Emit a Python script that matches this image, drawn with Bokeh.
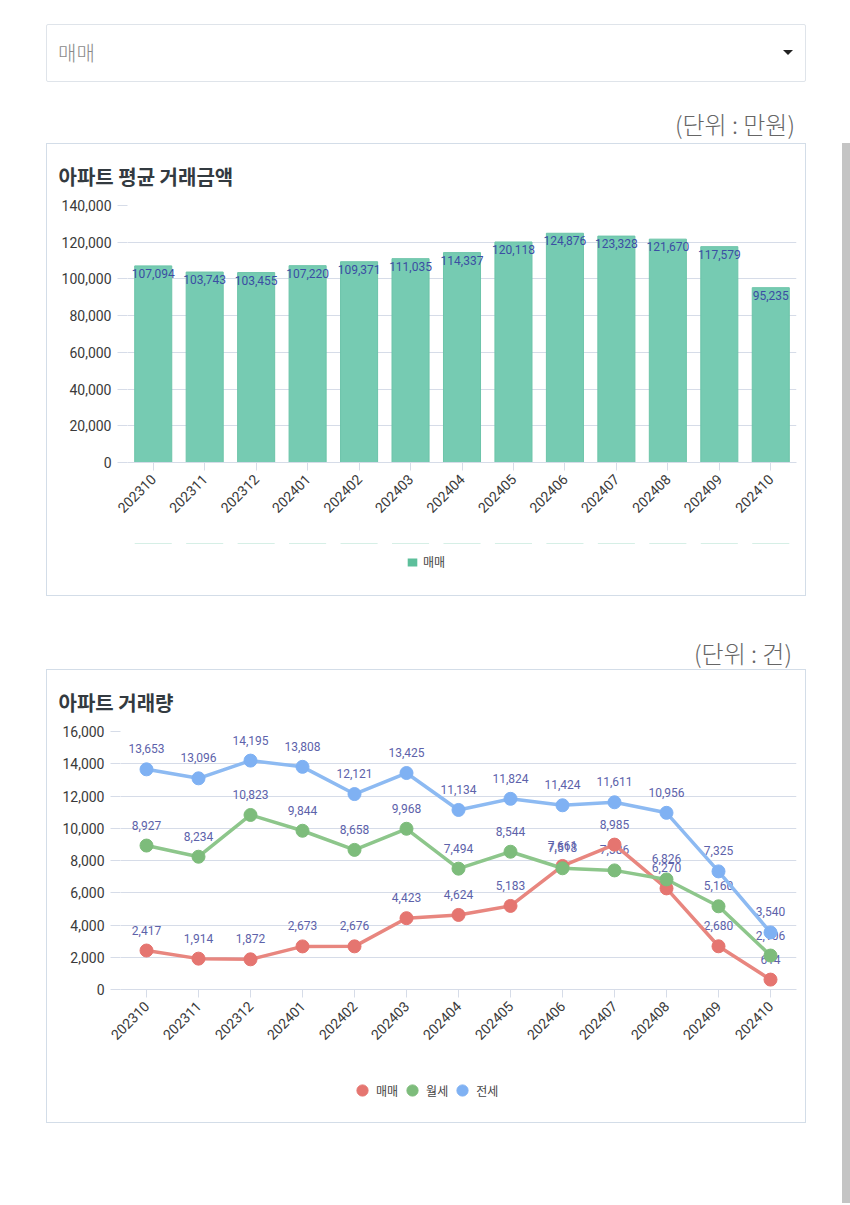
import math
from bokeh.plotting import figure
from bokeh.models import (ColumnDataSource, FactorRange, Range1d, SingleIntervalTicker,
                          NumeralTickFormatter, Legend, LegendItem, Div, Spacer)
from bokeh.layouts import column, row
from bokeh.core.properties import value
from bokeh.embed import file_html
from bokeh.resources import INLINE

months = ["202310", "202311", "202312", "202401", "202402", "202403", "202404",
          "202405", "202406", "202407", "202408", "202409", "202410"]
avg_price = [107094, 103743, 103455, 107220, 109371, 111035, 114337,
             120118, 124876, 123328, 121670, 117579, 95235]
sale = [2417, 1914, 1872, 2673, 2676, 4423, 4624, 5183, 7661, 8985, 6270, 2680, 614]
monthly_rent = [8927, 8234, 10823, 9844, 8658, 9968, 7494, 8544, 7518, 7386, 6826, 5160, 2106]
jeonse = [13653, 13096, 14195, 13808, 12121, 13425, 11134, 11824, 11424, 11611, 10956, 7325, 3540]

GRID = "#d6dce8"
CARD = "1px solid #d3dde8"
KFONT = "Noto Sans CJK KR"
NFONT = "Roboto"
TOP_STYLE = {"border-top": CARD, "border-left": CARD, "border-right": CARD,
             "box-sizing": "border-box"}
BOT_STYLE = {"border-bottom": CARD, "border-left": CARD, "border-right": CARD,
             "box-sizing": "border-box"}


def style_axes(p, tick_interval, std):
    p.yaxis.ticker = SingleIntervalTicker(interval=tick_interval)
    p.yaxis.formatter = NumeralTickFormatter(format="0,0")
    p.yaxis.axis_line_color = None
    p.yaxis.major_tick_out = 10
    p.yaxis.major_tick_in = 0
    p.yaxis.major_tick_line_color = GRID
    p.yaxis.minor_tick_line_color = None
    p.yaxis.major_label_standoff = std
    p.yaxis.major_label_text_font = NFONT
    p.yaxis.major_label_text_font_size = "14px"
    p.yaxis.major_label_text_color = "#3a3a3a"
    p.xaxis.axis_line_color = GRID
    p.xaxis.major_tick_out = 8
    p.xaxis.major_tick_in = 0
    p.xaxis.major_tick_line_color = GRID
    p.xaxis.major_label_orientation = math.pi / 4
    p.xaxis.major_label_text_font = NFONT
    p.xaxis.major_label_text_font_size = "14px"
    p.xaxis.major_label_text_color = "#3a3a3a"
    p.xaxis.major_label_standoff = 6
    p.xgrid.grid_line_color = None
    p.ygrid.grid_line_color = GRID
    p.title.text_font = KFONT
    p.title.text_font_size = "20px"
    p.title.text_font_style = "bold"
    p.title.text_color = "#333a40"
    p.title.align = "left"
    p.title.standoff = 30


def legend_fig(h):
    # strip below each chart that holds its legend (data kept outside the visible y-range)
    f = figure(width=W, height=h, x_range=FactorRange(*months), y_range=Range1d(-3, -2),
               output_backend="svg", toolbar_location=None,
               min_border_left=0, min_border_right=0, min_border_top=0, min_border_bottom=0,
               x_axis_type=None, y_axis_type=None, outline_line_color=None,
               styles=BOT_STYLE)
    f.grid.visible = False
    return f


W = 760
# ---------------- bar chart ----------------
p1 = figure(x_range=FactorRange(*months), y_range=Range1d(0, 140000),
            width=W, height=400, output_backend="svg", toolbar_location=None,
            min_border_left=80, min_border_right=11, min_border_top=58, min_border_bottom=82,
            outline_line_color=None, title="아파트 평균 거래금액", styles=TOP_STYLE)
style_axes(p1, 20000, 6)
p1.title.offset = -69
src1 = ColumnDataSource(dict(x=months, y=avg_price, label=[f"{v:,}" for v in avg_price]))
p1.vbar(x="x", top="y", width=0.72, source=src1, fill_color="#76cbb2", line_color="#6cc4a9")
p1.text(x="x", y="y", text="label", source=src1, text_align="center", text_baseline="top",
        y_offset=3, text_font_size="12px", text_color="#3b4ea3", text_font=value(NFONT))

l1 = legend_fig(53)
swatch = l1.vbar(x="x", top="y", width=0.72, source=src1,
                 fill_color="#5dbf9b", line_color=None)
l1.add_layout(Legend(items=[LegendItem(label="매매", renderers=[swatch])],
                     orientation="horizontal", location=(279, 26),
                     label_text_font=KFONT, label_text_font_size="12px",
                     label_text_color="#444", glyph_width=12, glyph_height=10,
                     border_line_color=None, background_fill_alpha=0, margin=0, padding=0,
                     label_standoff=5))

# ---------------- line chart ----------------
p2 = figure(x_range=FactorRange(*months), y_range=Range1d(0, 16000),
            width=W, height=400, output_backend="svg", toolbar_location=None,
            min_border_left=73, min_border_right=11, min_border_top=60, min_border_bottom=81,
            outline_line_color=None, title="아파트 거래량", styles=TOP_STYLE)
style_axes(p2, 2000, 6)
p2.title.offset = -62

series = [("매매", sale, "#e8867f", "#e57570"),
          ("월세", monthly_rent, "#8dc68b", "#7dbc7b"),
          ("전세", jeonse, "#8dbaf2", "#7fb1f3")]
srcs = []
for name, vals, lc, mc in series:
    s = ColumnDataSource(dict(x=months, y=vals, label=[f"{v:,}" for v in vals]))
    srcs.append(s)
    p2.text(x="x", y="y", text="label", source=s, text_align="center",
            text_baseline="bottom", y_offset=-16, text_font_size="12px",
            text_color="#5d62aa", text_font=value(NFONT))
for (name, vals, lc, mc), s in zip(series, srcs):
    p2.line(x="x", y="y", source=s, line_color=lc, line_width=3.5)
    p2.scatter(x="x", y="y", source=s, size=13, fill_color=mc, line_color=mc)

l2 = legend_fig(54)
items = []
for (name, vals, lc, mc), s in zip(series, srcs):
    r = l2.scatter(x="x", y="y", source=s, fill_color=mc, line_color=mc)
    items.append(LegendItem(label=name, renderers=[r]))
l2.add_layout(Legend(items=items, orientation="horizontal", location=(228, 18),
                     label_text_font=KFONT, label_text_font_size="12px",
                     label_text_color="#444", glyph_width=28, glyph_height=30,
                     border_line_color=None, background_fill_alpha=0, margin=0, padding=0,
                     spacing=0, label_standoff=0))

hdr1 = Div(text=f"""
<div style="position:relative;width:842px;height:143px;font-family:'{KFONT}','Noto Sans',sans-serif;line-height:1;">
  <div style="position:absolute;left:46px;top:24px;width:760px;height:58px;box-sizing:border-box;border:1px solid #dfe4ea;border-radius:2px;background:#fff;">
    <span style="position:absolute;left:11px;top:18px;font-size:20px;color:#8a8a8a;font-weight:300;">매매</span>
    <div style="position:absolute;left:736px;top:25px;width:0;height:0;border-left:5px solid transparent;border-right:5px solid transparent;border-top:5px solid #222;"></div>
  </div>
  <div style="position:absolute;right:47px;top:112px;font-size:24px;color:#666;font-weight:300;">(단위 : 만원)</div>
</div>""", width=842, height=143)

hdr2 = Div(text=f"""
<div style="position:relative;width:842px;height:73px;font-family:'{KFONT}','Noto Sans',sans-serif;line-height:1;">
  <div style="position:absolute;right:50px;top:45px;font-size:24px;color:#666;font-weight:300;">(단위 : 건)</div>
</div>""", width=842, height=73)

hdr1.margin = 0
hdr2.margin = 0
card1 = row(Spacer(width=46, height=453), column(p1, l1))
card2 = row(Spacer(width=46, height=454), column(p2, l2))
main = column(hdr1, card1, hdr2, card2)

scroll = Div(text="", width=8, height=1060, styles={"background-color": "#c4c4c4"})
scroll.margin = 0
side = column(Spacer(width=8, height=143), scroll)

layout = row(main, side)

open("out.html", "w").write(file_html(layout, INLINE))
